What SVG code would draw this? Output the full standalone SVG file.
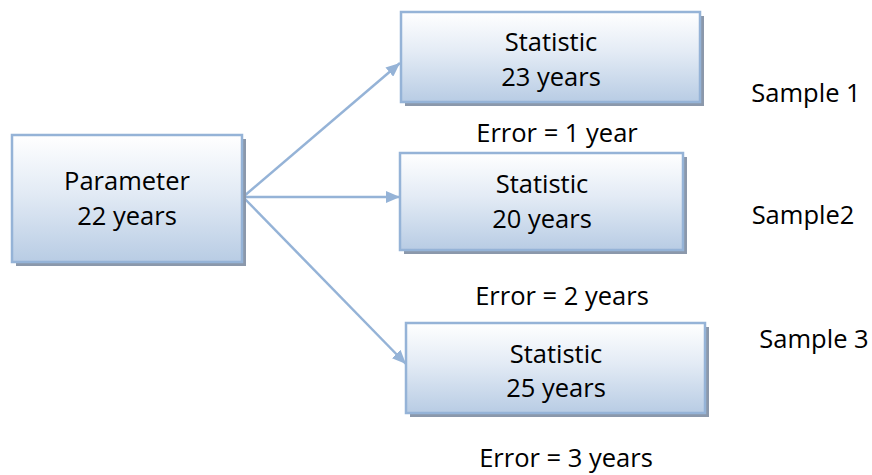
<svg xmlns="http://www.w3.org/2000/svg" width="872" height="475" viewBox="0 0 872 475">
  <defs>
    <linearGradient id="boxFill" x1="0" y1="0" x2="0" y2="1">
      <stop offset="0" stop-color="#ffffff"/>
      <stop offset="0.45" stop-color="#e3ebf5"/>
      <stop offset="1" stop-color="#b8cce4"/>
    </linearGradient>
    <marker id="arrow" viewBox="0 0 14 12" refX="14" refY="6" markerWidth="14" markerHeight="12" markerUnits="userSpaceOnUse" orient="auto">
      <path d="M0,0 L14,6 L0,12 Z" fill="#95b3d7"/>
    </marker>
  </defs>
  <style>
    .shadow { fill: #8b98ab; }
    .box { fill: url(#boxFill); stroke: #95b3d7; stroke-width: 2.5; }
    .label { font-family: "Open Sans", "Liberation Sans", sans-serif; font-size: 25.5px; fill: #000000; text-anchor: middle; }
    .conn { stroke: #95b3d7; stroke-width: 2.5; fill: none; marker-end: url(#arrow); }
  </style>
  <rect width="872" height="475" fill="#ffffff"/>

  <!-- connectors -->
  <g id="connectors">
    <line class="conn" x1="243" y1="197" x2="400" y2="63"/>
    <line class="conn" x1="243" y1="197" x2="400" y2="197"/>
    <line class="conn" x1="243" y1="197" x2="406" y2="364"/>
  </g>

  <!-- parameter node -->
  <g id="parameter">
    <rect class="shadow" x="16" y="139" width="230" height="127"/>
    <rect class="box" x="12" y="135" width="230" height="127"/>
    <text class="label" x="127" y="190">Parameter</text>
    <text class="label" x="127" y="225">22 years</text>
  </g>

  <!-- statistic nodes -->
  <g id="statistic1">
    <rect class="shadow" x="405" y="16" width="299" height="90"/>
    <rect class="box" x="401" y="12" width="299" height="90"/>
    <text class="label" x="551" y="51">Statistic</text>
    <text class="label" x="551" y="86">23 years</text>
  </g>
  <g id="statistic2">
    <rect class="shadow" x="404" y="157" width="283" height="97"/>
    <rect class="box" x="400" y="153" width="283" height="97"/>
    <text class="label" x="542" y="193">Statistic</text>
    <text class="label" x="542" y="228">20 years</text>
  </g>
  <g id="statistic3">
    <rect class="shadow" x="410" y="327" width="299" height="90"/>
    <rect class="box" x="406" y="323" width="299" height="90"/>
    <text class="label" x="556" y="363">Statistic</text>
    <text class="label" x="556" y="397">25 years</text>
  </g>

  <!-- error labels -->
  <g id="errors">
    <text class="label" x="557" y="142">Error = 1 year</text>
    <text class="label" x="562" y="305">Error = 2 years</text>
    <text class="label" x="566" y="467">Error = 3 years</text>
  </g>

  <!-- sample labels -->
  <g id="samples">
    <text class="label" x="806" y="102">Sample 1</text>
    <text class="label" x="803" y="224">Sample2</text>
    <text class="label" x="814" y="348">Sample 3</text>
  </g>
</svg>
